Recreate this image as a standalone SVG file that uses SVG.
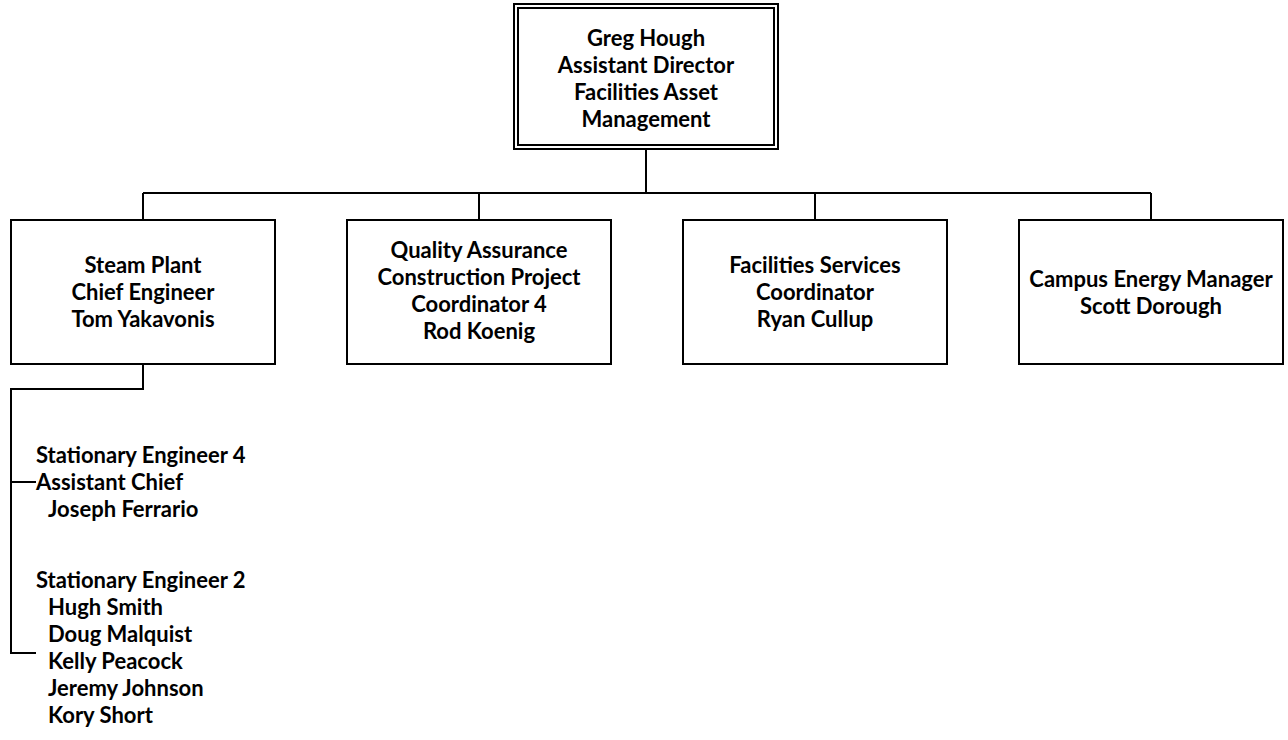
<svg xmlns="http://www.w3.org/2000/svg" width="1288" height="740" viewBox="0 0 1288 740">
<style>
.box{fill:#fff;stroke:#000;stroke-width:2}
.ln{fill:none;stroke:#000;stroke-width:2}
text{font-family:Lato,"Open Sans","Liberation Sans",sans-serif;font-weight:bold;font-size:22px;fill:#000}
.c{text-anchor:middle}
</style>
<rect width="1288" height="740" fill="#fff"/>
<g id="connectors">
<path class="ln" d="M646,149 V193 M143,193 H1151 M143,193 V220 M479,193 V220 M815,193 V220 M1151,193 V220"/>
<path class="ln" d="M143,364 V389 H11 V653 H36 M11,482 H36"/>
</g>
<g id="greg">
<rect class="box" x="514" y="4" width="264" height="145"/>
<rect class="box" x="518" y="8" width="256" height="137"/>
<text class="c" x="646" y="46">Greg Hough</text>
<text class="c" x="646" y="73">Assistant Director</text>
<text class="c" x="646" y="100">Facilities Asset</text>
<text class="c" x="646" y="127">Management</text>
</g>
<g id="steam">
<rect class="box" x="11" y="220" width="264" height="144"/>
<text class="c" x="143" y="273">Steam Plant</text>
<text class="c" x="143" y="300">Chief Engineer</text>
<text class="c" x="143" y="327">Tom Yakavonis</text>
</g>
<g id="qa">
<rect class="box" x="347" y="220" width="264" height="144"/>
<text class="c" x="479" y="258">Quality Assurance</text>
<text class="c" x="479" y="285">Construction Project</text>
<text class="c" x="479" y="312">Coordinator 4</text>
<text class="c" x="479" y="339">Rod Koenig</text>
</g>
<g id="fs">
<rect class="box" x="683" y="220" width="264" height="144"/>
<text class="c" x="815" y="273">Facilities Services</text>
<text class="c" x="815" y="300">Coordinator</text>
<text class="c" x="815" y="327">Ryan Cullup</text>
</g>
<g id="cem">
<rect class="box" x="1019" y="220" width="264" height="144"/>
<text class="c" x="1151" y="287">Campus Energy Manager</text>
<text class="c" x="1151" y="314">Scott Dorough</text>
</g>
<g id="se4">
<text x="36" y="463">Stationary Engineer 4</text>
<text x="36" y="490">Assistant Chief</text>
<text x="48" y="517">Joseph Ferrario</text>
</g>
<g id="se2">
<text x="36" y="588">Stationary Engineer 2</text>
<text x="48" y="615">Hugh Smith</text>
<text x="48" y="642">Doug Malquist</text>
<text x="48" y="669">Kelly Peacock</text>
<text x="48" y="696">Jeremy Johnson</text>
<text x="48" y="723">Kory Short</text>
</g>
</svg>
